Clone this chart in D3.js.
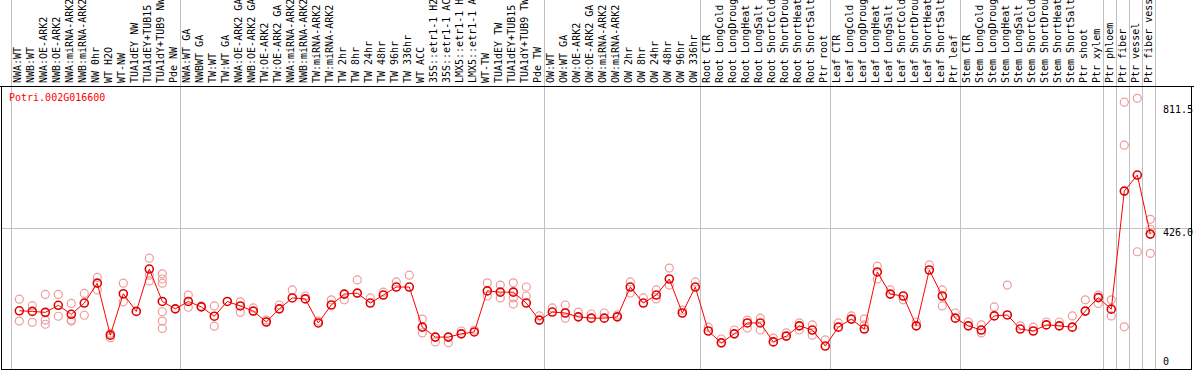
<!DOCTYPE html>
<html>
<head>
<meta charset="utf-8">
<script src="https://cdn.jsdelivr.net/npm/d3@7"></script>
<style>
  html, body { margin: 0; padding: 0; background: #fff; }
  svg { display: block; }
  text { font-family: "DejaVu Sans Mono", monospace; font-size: 10px; }
</style>
</head>
<body>
<div id="chart"></div>
<script>
// Expression profile, one gene across 88 samples

const geneName = 'Potri.002G016600';

const sampleLabels = [
  'NWA:WT', 'NWB:WT', 'NWA:OE-ARK2', 'NWB:OE-ARK2', 'NWA:miRNA-ARK2', 'NWB:miRNA-ARK2',
  'NW 0hr', 'WT H2O', 'WT-NW', 'TUA1dEY NW', 'TUA1dEY+TUB15', 'TUA1dY+TUB9 NW', 'Pde NW',
  'NWA:WT GA', 'NWBWT GA', 'TW:WT', 'TW:WT GA', 'NWA:OE-ARK2 GA', 'NWB:OE-ARK2 GA',
  'TW:OE-ARK2', 'TW:OE-ARK2 GA', 'NWA:miRNA-ARK2', 'NWB:miRNA-ARK2', 'TW:miRNA-ARK2',
  'TW:miRNA-ARK2', 'TW 2hr', 'TW 8hr', 'TW 24hr', 'TW 48hr', 'TW 96hr', 'TW 336hr',
  'WT ACC', '35S::etr1-1 H2', '35S::etr1-1 AC', 'LMX5::etr1-1 H', 'LMX5::etr1-1 A',
  'WT-TW', 'TUA1dEY TW', 'TUA1dEY+TUB15', 'TUA1dY+TUB9 TW', 'Pde TW',
  'OW:WT', 'OW:WT GA', 'OW:OE-ARK2', 'OW:OE-ARK2 GA', 'OW:miRNA-ARK2', 'OW:miRNA-ARK2',
  'OW 2hr', 'OW 8hr', 'OW 24hr', 'OW 48hr', 'OW 96hr', 'OW 336hr',
  'Root CTR', 'Root LongCold', 'Root LongDroug', 'Root LongHeat', 'Root LongSalt',
  'Root ShortCold', 'Root ShortDrou', 'Root ShortHeat', 'Root ShortSalt', 'Ptr root',
  'Leaf CTR', 'Leaf LongCold', 'Leaf LongDroug', 'Leaf LongHeat', 'Leaf LongSalt',
  'Leaf ShortCold', 'Leaf ShortDrou', 'Leaf ShortHeat', 'Leaf ShortSalt', 'Ptr leaf',
  'Stem CTR', 'Stem LongCold', 'Stem LongDroug', 'Stem LongHeat', 'Stem LongSalt',
  'Stem ShortCold', 'Stem ShortDrou', 'Stem ShortHeat', 'Stem ShortSalt', 'Ptr shoot',
  'Ptr xylem', 'Ptr phloem', 'Ptr fiber', 'Ptr vessel', 'Ptr fiber vess'
];

// first sample index of each group (vertical separators)
const groupStarts = [0, 13, 41, 53, 63, 73, 84, 85, 86, 87];

const meanValues = [
  169, 167, 164, 186, 158, 193, 255, 93, 222, 167, 299, 198, 175,
  198, 181, 152, 198, 184, 168, 134, 175, 209, 206, 131, 187, 221, 224, 193,
  218, 243, 243, 118, 87, 87, 97, 103, 231, 227, 227, 193, 140,
  165, 162, 150, 146, 146, 150, 243, 193, 218, 268, 162, 243,
  106, 69, 97, 131, 131, 72, 90, 122, 109, 59,
  118, 143, 112, 290, 221, 215, 122, 296, 215, 146,
  122, 109, 153, 156, 112, 106, 125, 122, 118, 168, 210,
  174, 542, 592, 408
];

const replicateValues = [
  [205, 137], [185, 133], [220, 140, 127], [220, 152], [192, 140, 137], [223, 155],
  [273, 234], [99, 85], [255, 197], [], [333, 280, 262], [284, 268, 255, 166, 137, 114], [],
  [218, 180], [184], [184, 121], [], [197, 164], [178], [140], [187], [234], [215], [137],
  [203], [203], [265], [209], [227], [259], [280], [143, 100], [72], [69], [106], [109],
  [256, 215], [249, 209], [256, 209, 190], [215, 243], [153],
  [178], [187, 146], [165], [159], [162], [156], [259, 224], [209], [234, 206], [302, 249], [171], [259],
  [118], [81], [109], [140, 115], [146, 109], [84], [100], [131, 109], [125, 93], [78],
  [131], [153], [125, 143], [308, 268], [234], [203], [134], [312], [234, 184], [162],
  [134], [125, 100], [181], [249], [122], [118], [134], [134], [153], [203], [218, 192],
  [203, 153], [819, 685, 119], [831, 353], [454, 423, 348]
];

const tickValues = [811.5, 426.0, 0];

const W = 1194, H = 370;
const frame = { left: 1, right: 1191, top: 86, bottom: 369 };

const svg = d3.select('#chart').append('svg')
  .attr('width', W)
  .attr('height', H);

svg.append('rect').attr('width', W).attr('height', H).attr('fill', '#fff');

const x = d3.scaleBand()
  .domain(d3.range(sampleLabels.length))
  .range([11.3, 1155.3]);

const px = i => x(i) + 8;

const y = d3.scaleLinear()
  .domain([0, 811.5])
  .range([365, 104.6]);

// group separators
const seps = groupStarts.map(i => x(i)).concat([x.range()[1]]);
svg.selectAll('line.sep')
  .data(seps)
  .join('line')
  .attr('class', 'sep')
  .attr('x1', d => d).attr('x2', d => d)
  .attr('y1', 0).attr('y2', frame.bottom)
  .attr('stroke', '#c0c0c0')
  .attr('stroke-width', 1)
  .attr('shape-rendering', 'crispEdges');

// middle reference line
svg.append('line')
  .attr('x1', frame.left).attr('x2', frame.right)
  .attr('y1', y(426)).attr('y2', y(426))
  .attr('stroke', '#c0c0c0')
  .attr('shape-rendering', 'crispEdges');

// frame
svg.append('line')
  .attr('x1', 0).attr('x2', W)
  .attr('y1', frame.top).attr('y2', frame.top)
  .attr('stroke', '#000').attr('shape-rendering', 'crispEdges');
svg.append('path')
  .attr('d', `M${frame.left},${frame.top}V${frame.bottom}H${frame.right}V${frame.top}`)
  .attr('fill', 'none')
  .attr('stroke', '#000')
  .attr('shape-rendering', 'crispEdges');

// sample labels (vertical)
svg.selectAll('text.lab')
  .data(sampleLabels)
  .join('text')
  .attr('class', 'lab')
  .attr('transform', (d, i) => `translate(${px(i) + 2},83) rotate(-90)`)
  .attr('fill', '#000')
  .text(d => d);

// title
svg.append('text')
  .attr('x', 9)
  .attr('y', 101)
  .attr('fill', '#ff0000')
  .text(geneName);

// right axis labels
svg.selectAll('text.tick')
  .data(tickValues)
  .join('text')
  .attr('class', 'tick')
  .attr('x', 1163)
  .attr('y', d => d === 0 ? y(d) : y(d) + 8)
  .attr('fill', '#000')
  .text(d => d === 0 ? '0' : d.toFixed(1));

// replicates
const repPts = [];
replicateValues.forEach((arr, i) => arr.forEach(v => repPts.push({ i, v })));
svg.selectAll('circle.rep')
  .data(repPts)
  .join('circle')
  .attr('class', 'rep')
  .attr('cx', d => px(d.i))
  .attr('cy', d => y(d.v))
  .attr('r', 4)
  .attr('fill', 'none')
  .attr('stroke', '#f09a9a')
  .attr('stroke-width', 1.2);

// mean line
const line = d3.line()
  .x((d, i) => px(i))
  .y(d => y(d));

svg.append('path')
  .datum(meanValues)
  .attr('d', line)
  .attr('fill', 'none')
  .attr('stroke', '#ff0000')
  .attr('stroke-width', 1);

svg.selectAll('circle.mean')
  .data(meanValues)
  .join('circle')
  .attr('class', 'mean')
  .attr('cx', (d, i) => px(i))
  .attr('cy', d => y(d))
  .attr('r', 4)
  .attr('fill', 'none')
  .attr('stroke', '#e00000')
  .attr('stroke-width', 1.6);
</script>
</body>
</html>
